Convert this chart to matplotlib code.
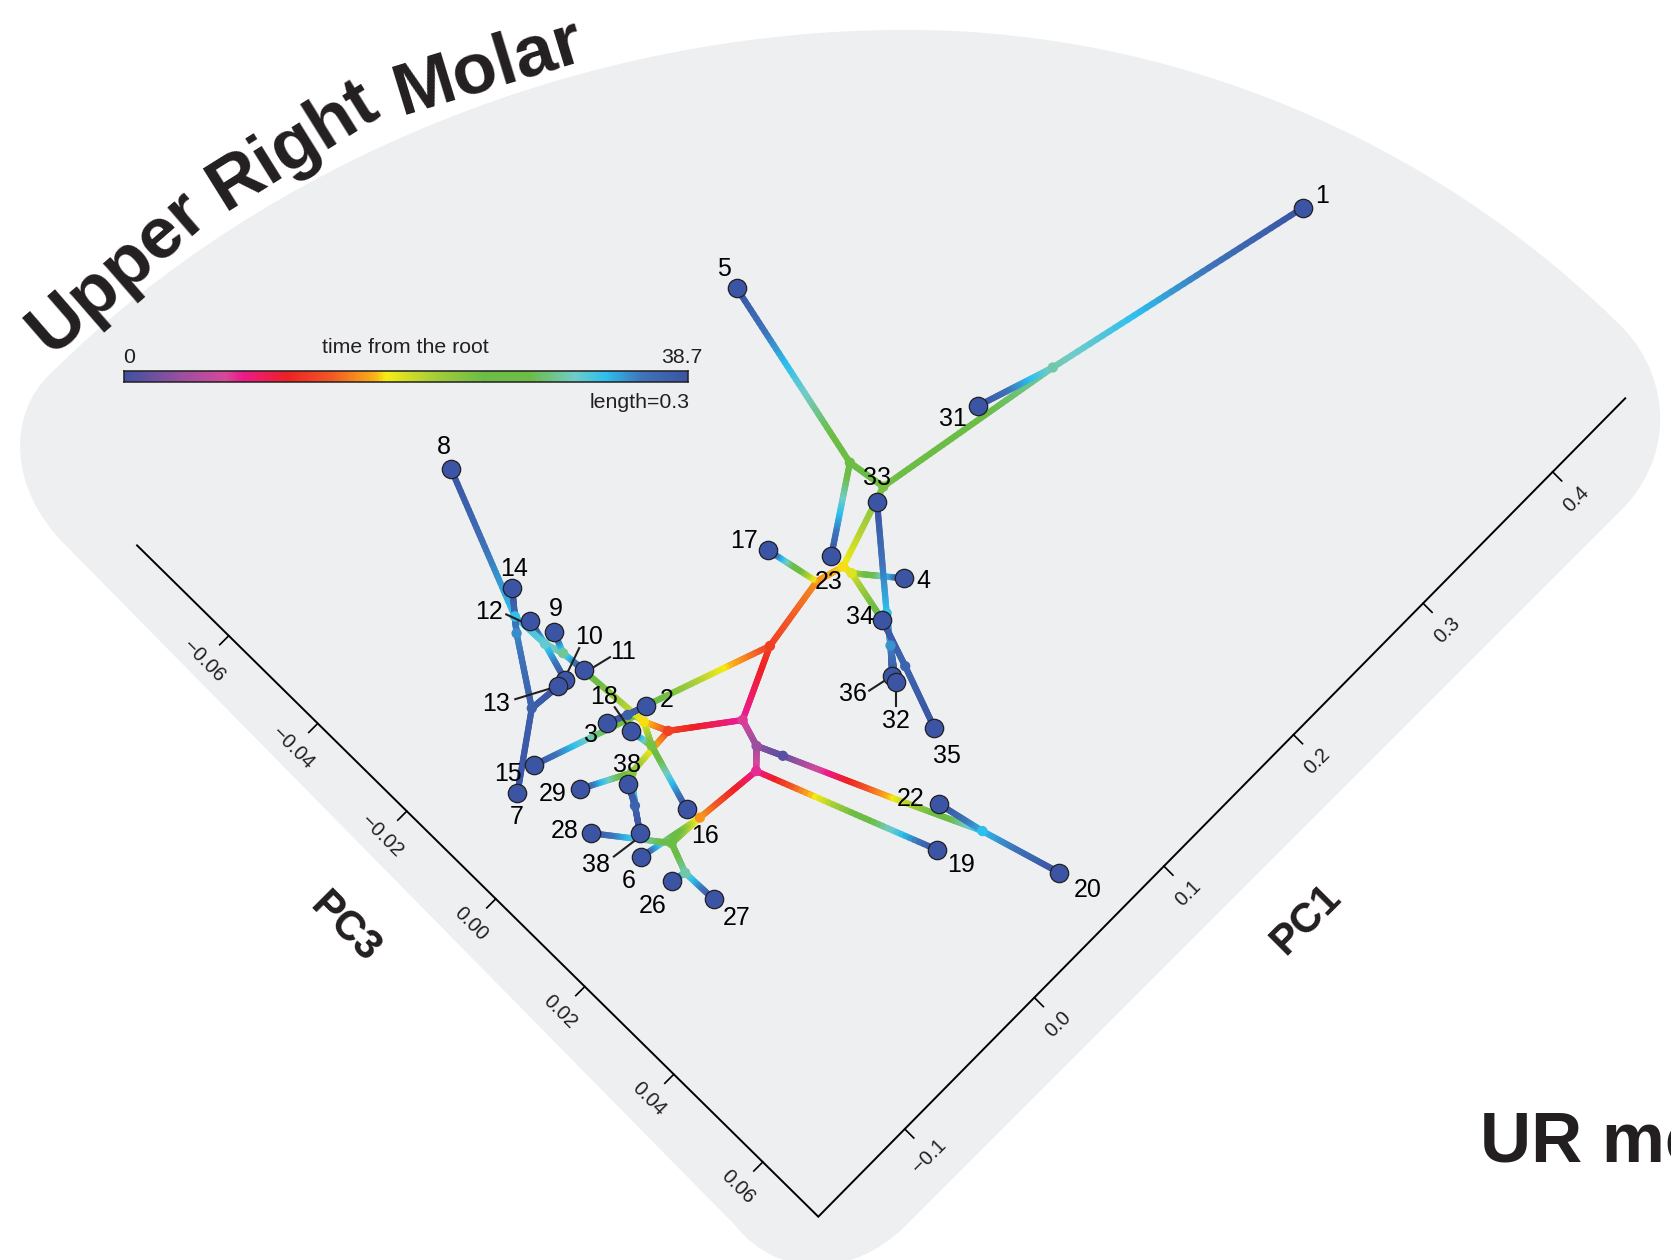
import numpy as np
import matplotlib
matplotlib.use("Agg")
import matplotlib.pyplot as plt
from matplotlib.collections import LineCollection
from matplotlib.colors import LinearSegmentedColormap, Normalize
from matplotlib.patches import PathPatch
from matplotlib.path import Path
from matplotlib.transforms import Affine2D

plt.rcParams["font.family"] = ["Liberation Sans", "DejaVu Sans"]

# ---------- data ----------
tip_ids = ["1", "5", "31", "33", "23", "4", "34", "36", "32", "35", "22", "19", "20", "17",
           "8", "14", "12", "9", "10", "11", "13", "2", "3", "18", "15", "7", "29", "38a",
           "16", "28", "38b", "6", "26", "27"]
tip_labels = ["1", "5", "31", "33", "23", "4", "34", "36", "32", "35", "22", "19", "20", "17",
              "8", "14", "12", "9", "10", "11", "13", "2", "3", "18", "15", "7", "29", "38",
              "16", "28", "38", "6", "26", "27"]
tip_pc1 = [0.4053, 0.1578, 0.2052, 0.1297, 0.0912, 0.1106, 0.0865, 0.0689, 0.0678, 0.0650,
           0.0376, 0.0194, 0.0574, 0.0693, -0.0210, -0.0432, -0.0490, -0.0439, -0.0581, -0.0471,
           -0.0631, -0.0372, -0.0584, -0.0526, -0.1026, -0.1198, -0.0942, -0.0737, -0.0611,
           -0.1070, -0.0879, -0.0970, -0.0939, -0.0852]
tip_pc3 = [0.0131, -0.0419, -0.0012, -0.0018, -0.0008, 0.0099, 0.0121, 0.0196, 0.0208, 0.0303,
           0.0394, 0.0444, 0.0608, -0.0087, -0.0537, -0.0333, -0.0275, -0.0236, -0.0169, -0.0159,
           -0.0170, -0.0049, -0.0073, -0.0037, -0.0108, -0.0095, -0.0029, 0.0020, 0.0115,
           0.0033, 0.0088, 0.0117, 0.0179, 0.0247]
tip_time = 38.7

inner_ids = ["R", "A", "B2", "B", "C", "D", "E", "F", "G", "H", "I", "n34", "J", "K", "L1", "L", "M",
             "N", "O", "P", "U", "V", "V2", "T", "S", "W", "W2", "Yp", "Y", "Z", "Q", "X", "n2"]
inner_pc1 = [-0.0054, 0.0334, 0.0760, 0.0919, 0.0926, 0.1379, 0.1343, 0.2485, 0.0907, 0.0798, 0.0775,
             0.0865, -0.0100, -0.0037, 0.0223, 0.0439, -0.0198, -0.0592, -0.0798, -0.0860, -0.0381,
             -0.0439, -0.0447, -0.0501, -0.0681, -0.0520, -0.0486, -0.0530, -0.0588, -0.0817,
             -0.0795, -0.0475, -0.0372]
inner_pc3 = [0.0077, 0.0024, 0.0004, 0.0017, 0.0034, -0.0028, -0.0093, 0.0029, 0.0119, 0.0160, 0.0200,
             0.0121, 0.0122, 0.0163, 0.0336, 0.0474, 0.0150, 0.0139, 0.0136, 0.0185, 0.0005,
             -0.0033, -0.0049, 0.0003, 0.0011, -0.0233, -0.0202, -0.0298, -0.0277, -0.0175,
             0.0052, -0.0059, -0.0049]
inner_time = [7.4, 12.8, 16.0, 17.8, 19.0, 24.0, 25.5, 30.2, 32.9, 34.6, 37.0,
              26.3, 3.9, 1.2, 17.8, 33.1, 7.7, 16.3, 25.5, 30.2, 13.0,
              17.8, 23.0, 24.0, 23.2, 31.3, 29.8, 32.9, 34.8, 37.5,
              37.2, 37.5, 26.3]

edge_from = ["R", "A", "B2", "B2", "A", "B", "B", "D", "D", "F", "F", "E", "E", "C", "C", "n34", "G", "G",
             "H", "H", "34", "I", "R", "U", "U", "V", "V2", "V", "T", "T", "V", "W2", "W", "W", "W",
             "Yp", "Yp", "Y", "Y", "Z", "Z", "W2", "W2", "2", "X", "S", "S", "Q", "Q", "R", "J", "K",
             "L1", "L", "L", "J", "M", "M", "N", "N", "O", "O", "P", "P"]
edge_to = ["A", "B2", "B", "17", "n2", "C", "D", "E", "F", "1", "31", "5", "23", "4", "n34", "G", "33", "H",
           "36", "32", "I", "35", "U", "V", "S", "V2", "15", "T", "16", "18", "W2", "W", "12", "10", "Yp",
           "8", "Y", "14", "Z", "7", "13", "9", "11", "X", "3", "29", "Q", "38a", "38b", "J", "K", "L1",
           "L", "22", "20", "M", "N", "19", "O", "6", "28", "P", "26", "27"]

pc1_ticks = [-0.1, 0.0, 0.1, 0.2, 0.3, 0.4]
pc1_tick_labels = ["\u22120.1", "0.0", "0.1", "0.2", "0.3", "0.4"]
pc3_ticks = [-0.06, -0.04, -0.02, 0.00, 0.02, 0.04, 0.06]
pc3_tick_labels = ["\u22120.06", "\u22120.04", "\u22120.02", "0.00", "0.02", "0.04", "0.06"]
pc1_axis_range = [-0.16673, 0.456]
pc3_axis_range = [-0.0806, 0.07247]

time_max = 38.7
cmap_positions = [0.0, 0.10, 0.18, 0.21, 0.29, 0.37, 0.445, 0.465, 0.55, 0.64, 0.72, 0.80, 0.855, 0.92, 1.0]
cmap_colors = ["#3f51a2", "#9a4f9f", "#d6489a", "#ec1a8c", "#ee2024", "#f15a25", "#fbb017", "#f6ec13",
               "#a6ce39", "#6cbd45", "#6cbd45", "#70ccc8", "#2dbfee", "#3e74b9", "#3b54a4"]

# ---------- style / layout ----------
INK = "#231f20"
BG = "#eeeff1"
TIP = "#3b54a4"
DISP = 1671 / 1568
TILT3 = -0.0038   # PC1 drift of the PC3 axis over its length
TILT1 = -0.0013   # PC3 drift of the PC1 axis over its length

label_offsets = {"1": (20, -14), "5": (-13, -21), "31": (-25, 11), "33": (0, -26), "23": (-3, 24), "4": (20, 1),
                 "34": (-22, -5), "36": (-39, 16), "32": (0, 37), "35": (13, 26), "22": (-28, -7),
                 "19": (24, 13), "20": (28, 15), "17": (-24, -11), "8": (-7, -24), "14": (2, -21),
                 "12": (-41, -11), "9": (2, -25), "10": (24, -45), "11": (39, -20), "13": (-62, 16),
                 "2": (21, -8), "3": (-16, 10), "18": (-27, -36), "15": (-26, 7), "7": (-1, 22),
                 "29": (-27, 3), "38a": (-1, -21), "16": (18, 25), "28": (-26, -4), "38b": (-44, 30),
                 "6": (-12, 22), "26": (-20, 23), "27": (23, 17)}
leaders = {"12": (-24, -7, -9, 0), "10": (14, -32, 2, -7), "11": (26, -13, 8, -2), "13": (-43, 13, -7, 2),
           "18": (-16, -24, -5, -8), "38b": (-26, 24, -5, 8), "36": (-23, 15, -6, 4), "32": (0, 24, 0, 9)}
dot_skip = {"B2", "n34", "L1", "V2", "n2"}

fig = plt.figure(figsize=(16.71, 12.6), dpi=100)
ax = fig.add_axes([0, 0, 1, 1])
ax.set_xlim(0, 1671)
ax.set_ylim(1260, 0)
ax.axis("off")

# PC space to pixel space of the (rotated) plot
sx, sy = 1305.0, 4418.0
x0, y0 = 818.3, 1216.7
pc1c, pc3c = pc1_axis_range[0], pc3_axis_range[1]
pc_px = Affine2D(matrix=np.array([[sx, sy, x0 - sx * pc1c - sy * pc3c],
                                  [-sx, sy, y0 + sx * pc1c - sy * pc3c],
                                  [0, 0, 1.0]]))
pc_tf = pc_px + ax.transData


def pc1_axis_pt(v):
    f = (v - pc1c) / (pc1_axis_range[1] - pc1c)
    return (v, pc3c + TILT1 * f)


def pc3_axis_pt(v):
    f = (pc3c - v) / (pc3c - pc3_axis_range[0])
    return (pc1c + TILT3 * f, v)


# background fan (display coords of the picture)
verts = [(48, 350), (250, 150), (550, 28), (850, 28), (1100, 28), (1340, 130), (1515, 300),
         (1565, 345), (1575, 420), (1525, 475), (850, 1150), (800, 1200), (730, 1200), (690, 1150),
         (60, 510), (10, 460), (5, 390), (48, 350)]
codes = [Path.MOVETO] + [Path.CURVE4] * 9 + [Path.LINETO] + [Path.CURVE4] * 3 + [Path.LINETO] + [Path.CURVE4] * 3
ax.add_patch(PathPatch(Path(np.array(verts) * DISP, codes), fc=BG, ec="none", zorder=0))

# axes
axis_pts = [pc1_axis_pt(pc1_axis_range[1]), (pc1c, pc3c), pc3_axis_pt(pc3_axis_range[0])]
ax.plot([p[0] for p in axis_pts], [p[1] for p in axis_pts],
        transform=pc_tf, color="black", lw=1.4, zorder=1, solid_joinstyle="miter")
for v, lab in zip(pc1_ticks, pc1_tick_labels):
    px, py = pc_px.transform(pc1_axis_pt(v))
    ax.plot([px, px + 9], [py, py + 9], color="black", lw=1.2, zorder=1)
    ax.text(px + 24, py + 27, lab, rotation=45, rotation_mode="anchor", ha="center", va="center",
            fontsize=14.5, color=INK)
for v, lab in zip(pc3_ticks, pc3_tick_labels):
    px, py = pc_px.transform(pc3_axis_pt(v))
    ax.plot([px, px - 9], [py, py + 9], color="black", lw=1.2, zorder=1)
    ax.text(px - 25, py + 25, lab, rotation=-45, rotation_mode="anchor", ha="center", va="center",
            fontsize=14.5, color=INK)
ax.text(1306, 920, "PC1", rotation=45, rotation_mode="anchor", ha="center", va="center",
        fontsize=30, fontweight="bold", color=INK)
ax.text(345, 928, "PC3", rotation=-45, rotation_mode="anchor", ha="center", va="center",
        fontsize=30, fontweight="bold", color=INK)

# tree
pos = {}
tm = {}
for n, a, b in zip(tip_ids, tip_pc1, tip_pc3):
    pos[n] = (a, b)
    tm[n] = tip_time
for n, a, b, t in zip(inner_ids, inner_pc1, inner_pc3, inner_time):
    pos[n] = (a, b)
    tm[n] = t

cmap = LinearSegmentedColormap.from_list("tree", list(zip(cmap_positions, cmap_colors)), N=512)
norm = Normalize(0, time_max)

segs, seg_t = [], []
for f, t in zip(edge_from, edge_to):
    fr = np.linspace(0, 1, 41)
    xs = pos[f][0] + fr * (pos[t][0] - pos[f][0])
    ys = pos[f][1] + fr * (pos[t][1] - pos[f][1])
    ts = tm[f] + fr * (tm[t] - tm[f])
    for i in range(40):
        segs.append([(xs[i], ys[i]), (xs[i + 1], ys[i + 1])])
        seg_t.append(0.5 * (ts[i] + ts[i + 1]))
lc = LineCollection(segs, array=np.array(seg_t), cmap=cmap, norm=norm, linewidths=4.5,
                    capstyle="round", transform=pc_tf, zorder=2)
ax.add_collection(lc, autolim=False)

dots = [n for n in inner_ids if n not in dot_skip]
ax.scatter([pos[n][0] for n in dots], [pos[n][1] for n in dots], c=[tm[n] for n in dots],
           cmap=cmap, norm=norm, s=55, linewidths=0, transform=pc_tf, zorder=3)
ax.scatter(tip_pc1, tip_pc3, s=175, c=TIP, edgecolors=INK, linewidths=0.9, transform=pc_tf, zorder=4)

for n, lab in zip(tip_ids, tip_labels):
    px, py = pc_px.transform(pos[n])
    dx, dy = label_offsets[n]
    ax.text(px + dx, py + dy + 2, lab, ha="center", va="center", fontsize=18, color="black", zorder=6)
    if n in leaders:
        a, b, c, d = leaders[n]
        ax.plot([px + a, px + c], [py + b, py + d], color=INK, lw=1.5, zorder=3.5)

# title pieces following the arc
ax.text(118, 272, "Upper", rotation=41, rotation_mode="anchor", ha="center", va="center",
        fontsize=52.5, fontweight="bold", color=INK)
ax.text(293, 146, "Right", rotation=32, rotation_mode="anchor", ha="center", va="center",
        fontsize=52.5, fontweight="bold", color=INK)
ax.text(488, 68, "Molar", rotation=17, rotation_mode="anchor", ha="center", va="center",
        fontsize=52.5, fontweight="bold", color=INK)
ax.text(1480, 1162, "UR me", ha="left", va="baseline", fontsize=51, fontweight="bold", color=INK, clip_on=True)

# colour scale
ax.text(405, 347.7, "time from the root", ha="center", va="center", fontsize=15.3, color=INK)
ax.text(129, 357.7, "0", ha="center", va="center", fontsize=15.3, color=INK)
ax.text(682, 357.7, "38.7", ha="center", va="center", fontsize=15.3, color=INK)
ax.text(639.5, 402.7, "length=0.3", ha="center", va="center", fontsize=15.3, color=INK)
cax = fig.add_axes([123.7 / 1671, 1 - 381.5 / 1260, 564 / 1671, 10.8 / 1260])
grid = np.linspace(0, time_max, 388)
cax.pcolormesh(grid, [0, 1], 0.5 * (grid[:-1] + grid[1:])[None, :], cmap=cmap, norm=norm, shading="flat")
cax.set_xticks([])
cax.set_yticks([])
for s in cax.spines.values():
    s.set_linewidth(1.1)
    s.set_color(INK)

fig.savefig("out.png", dpi=100)
